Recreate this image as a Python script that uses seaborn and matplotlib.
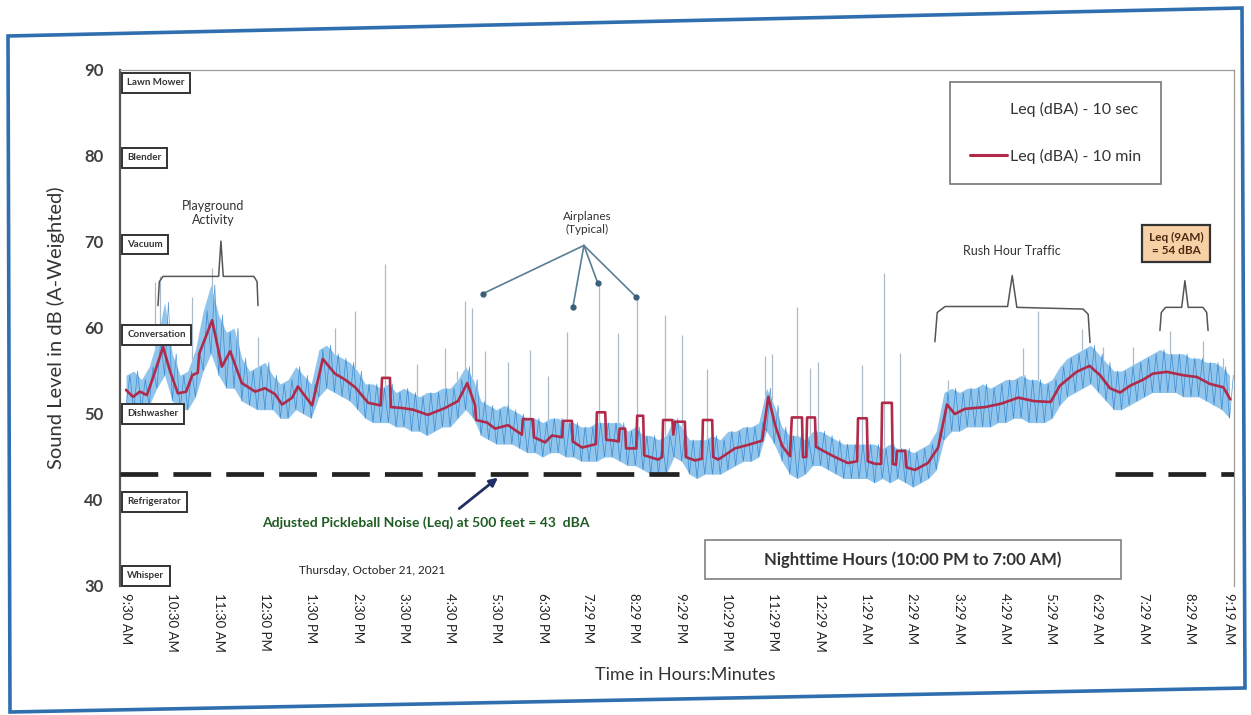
import numpy as np
import pandas as pd
import matplotlib
matplotlib.use("Agg")
import matplotlib.pyplot as plt
import seaborn as sns
from matplotlib.lines import Line2D
from matplotlib.patches import Polygon, Rectangle

# ---------------- data ----------------
tick_hours = [0, 1, 2, 3, 4, 5, 6, 7, 8, 9, 9.98, 10.98, 11.98, 12.98, 13.98, 14.98,
              15.98, 16.98, 17.98, 18.98, 19.98, 20.98, 21.98, 22.98, 23.82]
tick_labels = ["9:30 AM", "10:30 AM", "11:30 AM", "12:30 PM", "1:30 PM", "2:30 PM", "3:30 PM",
               "4:30 PM", "5:30 PM", "6:30 PM", "7:29 PM", "8:29 PM", "9:29 PM", "10:29 PM",
               "11:29 PM", "12:29 AM", "1:29 AM", "2:29 AM", "3:29 AM", "4:29 AM", "5:29 AM",
               "6:29 AM", "7:29 AM", "8:29 AM", "9:19 AM"]
y_ticks = [30, 40, 50, 60, 70, 80, 90]

# Leq 10 min (hours after 9:30 AM, dBA)
red_h = [0.00, 0.15, 0.30, 0.45, 0.60, 0.80, 0.95, 1.12, 1.30, 1.43, 1.55, 1.58, 1.86, 2.07, 2.25,
         2.50, 2.79, 3.00, 3.22, 3.37, 3.59, 3.71, 4.02, 4.25, 4.51, 4.73, 4.95, 5.23, 5.50, 5.53,
         5.70, 5.72, 5.96, 6.20, 6.52, 6.89, 7.17, 7.37, 7.54, 7.56, 7.80, 7.97, 8.25, 8.55, 8.57,
         8.79, 8.81, 9.05, 9.20, 9.42, 9.44, 9.63, 9.65, 9.85, 10.15, 10.17, 10.35, 10.37, 10.56,
         10.64, 10.66, 10.78, 10.80, 11.02, 11.04, 11.17, 11.19, 11.49, 11.58, 11.60, 11.80, 11.82,
         11.86, 12.07, 12.09, 12.29, 12.44, 12.46, 12.66, 12.68, 12.79, 13.15, 13.43, 13.74, 13.87,
         14.02, 14.17, 14.34, 14.38, 14.60, 14.62, 14.69, 14.71, 14.88, 14.90, 15.03, 15.31, 15.59,
         15.79, 15.81, 16.00, 16.02, 16.18, 16.31, 16.33, 16.54, 16.56, 16.63, 16.65, 16.83, 16.85,
         17.04, 17.32, 17.54, 17.73, 17.90, 18.12, 18.55, 18.90, 19.27, 19.61, 19.97, 20.17, 20.53,
         20.81, 21.04, 21.25, 21.47, 21.69, 21.97, 22.18, 22.48, 22.84, 23.13, 23.41, 23.70, 23.85]
red_db = [52.8, 52.0, 52.6, 52.2, 54.5, 57.8, 55.0, 52.4, 52.6, 54.5, 54.8, 57.0, 60.9, 55.5, 57.3,
          53.6, 52.6, 53.0, 52.3, 51.1, 51.9, 53.2, 51.0, 56.4, 54.7, 54.0, 53.1, 51.3, 51.0, 54.2,
          54.2, 50.8, 50.7, 50.5, 49.9, 50.7, 51.5, 53.6, 51.0, 49.3, 49.0, 48.3, 48.7, 47.6, 49.4,
          49.4, 47.3, 46.7, 47.5, 47.3, 49.2, 49.2, 46.8, 46.1, 46.5, 50.2, 50.2, 47.0, 46.9,
          46.8, 48.3, 48.3, 46.0, 46.0, 49.8, 49.8, 45.2, 44.7, 45.0, 49.3, 49.3, 47.6,
          49.1, 49.1, 45.0, 44.6, 44.8, 49.3, 49.3, 45.0, 44.7, 46.0, 46.4, 46.9, 52.0,
          48.7, 46.3, 45.1, 49.6, 49.6, 45.0, 45.0, 49.6, 49.6, 46.2, 45.8, 45.0, 44.3,
          44.5, 49.5, 49.5, 44.5, 44.2, 44.2, 51.3, 51.3, 44.2, 44.1, 45.7, 45.7, 43.8,
          43.5, 44.3, 46.1, 51.1, 50.0, 50.6, 50.8, 51.2, 51.9, 51.5, 51.4, 53.3, 54.9,
          55.6, 54.5, 53.0, 52.5, 53.3, 54.0, 54.7, 54.9, 54.5, 54.3, 53.5, 53.1, 51.7]

# Leq 10 sec: range of the fast readings in each 10-minute step
blue_hi = [54.5, 55.0, 54.0, 55.5, 58.5, 63.0, 57.0, 54.5, 55.0, 57.5, 62.0, 65.0, 61.5, 59.5, 60.0,
           56.5, 55.0, 55.5, 56.0, 54.5, 53.5, 54.0, 55.5, 54.5, 53.5, 57.5, 58.0, 57.0, 56.5, 56.0,
           55.0, 53.5, 53.5, 53.0, 53.5, 52.5, 53.0, 52.5, 52.0, 52.5, 52.5, 53.0, 53.0, 54.0, 55.5,
           54.0, 51.5, 51.0, 50.5, 51.0, 50.5, 50.0, 49.5, 49.5, 49.0, 49.5, 49.5, 49.0, 49.0, 48.5,
           48.5, 49.0, 49.0, 49.0, 49.0, 48.0, 48.5, 47.5, 47.5, 47.0, 47.5, 49.5, 48.5, 47.0, 47.0,
           47.0, 47.5, 47.0, 48.0, 48.0, 48.5, 48.5, 49.0, 53.0, 51.0, 48.5, 47.5, 47.5, 47.0, 48.0,
           48.0, 47.5, 47.0, 46.5, 46.5, 46.5, 46.5, 46.5, 46.0, 46.5, 46.0, 46.0, 45.5, 46.0, 46.5,
           48.0, 52.5, 53.0, 52.5, 53.0, 53.0, 53.5, 53.0, 53.5, 54.0, 54.0, 54.5, 54.0, 54.0, 53.5,
           54.0, 55.5, 56.5, 57.0, 57.5, 58.0, 57.0, 56.0, 55.0, 55.0, 55.5, 56.0, 56.5, 57.0, 57.5,
           57.0, 57.0, 57.0, 56.5, 56.5, 56.0, 56.0, 55.5, 54.5]
blue_lo = [51.0, 50.5, 50.5, 51.0, 53.0, 54.5, 51.5, 50.5, 50.5, 52.0, 55.0, 57.0, 54.5, 53.0, 53.0,
           51.5, 51.0, 50.5, 50.5, 50.5, 49.5, 49.5, 50.5, 50.0, 49.5, 52.0, 53.0, 52.5, 52.0, 51.5,
           50.5, 49.5, 49.0, 49.0, 49.0, 48.5, 48.5, 48.0, 48.0, 47.5, 48.0, 48.5, 48.5, 49.5, 50.5,
           49.5, 47.5, 47.0, 46.5, 46.5, 46.5, 46.0, 45.5, 45.5, 45.0, 45.5, 45.5, 45.0, 45.0, 44.5,
           44.5, 44.5, 45.0, 45.0, 44.5, 44.0, 44.0, 43.5, 43.0, 43.0, 43.0, 45.0, 44.5, 43.0, 42.5,
           43.0, 43.0, 43.0, 43.5, 44.0, 44.5, 44.5, 45.0, 48.0, 46.5, 44.5, 43.0, 42.5, 43.0, 44.0,
           44.0, 43.5, 43.0, 42.5, 42.5, 42.5, 42.5, 42.0, 42.5, 42.0, 42.5, 42.0, 41.5, 42.0, 42.5,
           43.5, 47.0, 48.0, 48.0, 48.5, 48.5, 48.5, 48.5, 49.0, 49.0, 49.5, 49.5, 49.0, 49.0, 49.0,
           49.5, 51.0, 52.0, 52.5, 53.0, 53.5, 52.5, 51.5, 50.5, 50.5, 51.0, 51.5, 52.0, 52.5, 52.5,
           52.5, 52.5, 52.0, 52.0, 52.0, 51.5, 51.0, 50.5, 49.5]

# isolated loud 10-sec events (airplanes etc.)
spike_h = [0.63, 0.73, 1.43, 1.86, 2.85, 4.51, 4.95, 5.60, 6.29, 6.89, 7.15, 7.32, 7.47, 7.75,
           8.25, 8.73, 9.11, 9.52, 10.22, 10.63, 11.04, 11.64, 12.00, 12.55, 13.80, 13.95, 14.50,
           14.78, 14.95, 15.90, 16.37, 16.72, 17.75, 19.37, 19.70, 20.65, 21.10, 21.75, 22.55,
           23.26, 23.69]
spike_top = [65.3, 66.0, 63.6, 67.0, 59.0, 60.0, 62.0, 67.5, 55.8, 57.7, 55.0, 63.1, 62.3, 57.3,
             56.1, 57.5, 54.4, 59.5, 65.2, 59.4, 63.4, 61.5, 59.2, 55.2, 56.7, 57.0, 62.4,
             55.3, 56.0, 55.7, 66.4, 57.1, 54.0, 57.7, 62.0, 59.9, 57.8, 57.8, 59.7,
             58.5, 56.5]

pickleball_level = 43
pickle_day_h = [-0.12, 11.95]
pickle_morning_h = [21.35, 23.93]

cat_names = ["Lawn Mower", "Blender", "Vacuum", "Conversation", "Dishwasher", "Refrigerator", "Whisper"]
cat_levels = [88.5, 79.8, 69.7, 59.2, 50.0, 39.8, 31.2]

# ---------------- figure ----------------
sns.set_theme(style="white")
plt.rcParams["font.family"] = ["Lato", "DejaVu Sans"]

W, H = 1251, 715
fig = plt.figure(figsize=(W / 100, H / 100), dpi=100)
ax_l, ax_r, ax_t, ax_b = 120, 1234, 70, 586
ax = fig.add_axes([ax_l / W, 1 - ax_b / H, (ax_r - ax_l) / W, (ax_b - ax_t) / H])

blue_t = np.arange(len(blue_hi)) / 6.0

# 10-sec band
ax.fill_between(blue_t, blue_lo, blue_hi, color="#4a9fe0", alpha=0.6, lw=0, zorder=2)
zz_t = np.ravel(np.column_stack([blue_t, blue_t + 1 / 12]))
zz_v = np.ravel(np.column_stack([blue_lo, blue_hi]))
sns.lineplot(x=zz_t, y=zz_v, sort=False, estimator=None, color="#1c78c8", lw=0.5, alpha=0.75,
             ax=ax, zorder=3)

# spikes
spike_base = np.interp(spike_h, blue_t, blue_hi)
ax.vlines(spike_h, spike_base, spike_top, color="#9fb0bf", lw=0.9, alpha=0.85, zorder=2)

# 10-min Leq
red_df = pd.DataFrame({"h": red_h, "db": red_db})
sns.lineplot(data=red_df, x="h", y="db", sort=False, estimator=None, color="#b02a4a", lw=1.9,
             ax=ax, zorder=5)

# pickleball dashed line
for seg in (pickle_day_h, pickle_morning_h):
    ax.plot(seg, [pickleball_level] * 2, color="#222222", lw=3.4, dashes=(8, 3.2), zorder=4,
            solid_capstyle="butt", dash_capstyle="butt")

ax.set_xlim(-0.13, 23.93)
ax.set_ylim(30, 90)
ax.set_yticks(y_ticks)
ax.set_yticklabels([str(v) for v in y_ticks], fontsize=12, fontweight="bold", color="#404040")
ax.set_xticks(tick_hours)
ax.set_xticklabels(tick_labels, rotation=270, fontsize=9.5, color="#222222", va="top", ha="center")
ax.tick_params(axis="both", length=0)
ax.tick_params(axis="y", pad=12)
ax.tick_params(axis="x", pad=5)
ax.set_xlabel("")
ax.set_ylabel("Sound Level in dB (A-Weighted)", fontsize=14.5, color="#333333", labelpad=14)

ax.spines["bottom"].set_visible(False)
ax.spines["left"].set_color("#555555")
ax.spines["left"].set_linewidth(1.6)
ax.spines["top"].set_color("#9a9a9a")
ax.spines["top"].set_linewidth(0.9)
ax.spines["right"].set_color("#9a9a9a")
ax.spines["right"].set_linewidth(0.9)

# category boxes
for name, lvl in zip(cat_names, cat_levels):
    ax.text(0.03, lvl, name, fontsize=7, fontweight="bold", color="#333333", ha="left",
            va="center", zorder=6,
            bbox=dict(boxstyle="square,pad=0.55", fc="white", ec="#333333", lw=1.4))

# annotations
ax.text(1.88, 73.4, "Playground\nActivity", fontsize=9, color="#333333", ha="center", va="center",
        linespacing=1.15)
pg_x = [0.69, 0.72, 0.80, 2.00, 2.05, 2.10, 2.76, 2.83, 2.85]
pg_y = [62.6, 65.4, 66.0, 66.0, 70.1, 66.0, 66.0, 65.4, 62.6]
ax.plot(pg_x, pg_y, color="#555555", lw=1.1, zorder=6)

ax.text(9.96, 72.2, "Airplanes\n(Typical)", fontsize=8.5, color="#333333", ha="center",
        va="center", linespacing=1.15)
air_targets = [(7.71, 64.0), (9.65, 62.4), (10.19, 65.2), (11.02, 63.6)]
for tx, ty in air_targets:
    ax.plot([9.89, tx], [69.6, ty], color="#5a7f95", lw=1.2, zorder=6)
    ax.plot([tx], [ty], marker="o", ms=3.5, color="#3b5f78", zorder=6)

ax.text(19.14, 69.0, "Rush Hour Traffic", fontsize=9, color="#333333", ha="center", va="center")
rh_x = [17.47, 17.52, 17.69, 19.04, 19.14, 19.24, 20.67, 20.78, 20.82]
rh_y = [58.4, 61.8, 62.5, 62.5, 66.1, 62.4, 62.2, 61.6, 58.3]
ax.plot(rh_x, rh_y, color="#555555", lw=1.1, zorder=6)

sb_x = [22.33, 22.36, 22.45, 22.80, 22.87, 22.94, 23.26, 23.34, 23.37]
sb_y = [59.7, 61.8, 62.4, 62.4, 65.5, 62.4, 62.4, 61.8, 59.7]
ax.plot(sb_x, sb_y, color="#555555", lw=1.1, zorder=6)

ax.text(22.68, 69.8, "Leq (9AM)\n= 54 dBA", fontsize=8.5, fontweight="bold", color="#4a2a10",
        ha="center", va="center", linespacing=1.2, zorder=7,
        bbox=dict(boxstyle="square,pad=0.55", fc="#f8d0a6", ec="#333333", lw=1.6))

ax.text(5.31, 31.8, "Thursday, October 21, 2021", fontsize=8.5, color="#222222", ha="center",
        va="center")
ax.text(6.48, 37.4, "Adjusted Pickleball Noise (Leq) at 500 feet = 43  dBA", fontsize=10,
        fontweight="bold", color="#1f5c24", ha="center", va="center")
ax.annotate("", xy=(8.08, 42.8), xytext=(7.15, 38.8),
            arrowprops=dict(arrowstyle="-|>", color="#1f2f66", lw=2.0, mutation_scale=12))

ax.add_patch(Rectangle((12.5, 30.8), 9.0, 4.6, fc="white", ec="#8a8a8a", lw=1.3, zorder=6))
ax.text(17.0, 33.1, "Nighttime Hours (10:00 PM to 7:00 AM)", fontsize=12, fontweight="bold",
        color="#333333", ha="center", va="center", zorder=7)

# legend
handles = [Line2D([], [], color="none", lw=2.2), Line2D([], [], color="#b02a4a", lw=2.2)]
leg = ax.legend(handles, ["Leq (dBA) - 10 sec", "Leq (dBA) - 10 min"], loc="upper left",
                bbox_to_anchor=(0.745, 0.977), frameon=True, fancybox=False, fontsize=11.5,
                handlelength=2.3, handletextpad=0.2, labelspacing=2.0, borderpad=1.25,
                borderaxespad=0)
leg.get_frame().set_edgecolor("#555555")
leg.get_frame().set_linewidth(1.2)
for t in leg.get_texts():
    t.set_color("#333333")

fig.text(685 / W, 1 - 675 / H, "Time in Hours:Minutes", fontsize=13, color="#333333",
         ha="center", va="center")

# scanned-page frame
outer = [(8, 36), (1242, 8), (1245, 688), (10, 712)]
fig.add_artist(Polygon([(x / W, 1 - y / H) for x, y in outer], closed=True, fill=False,
                       ec="#2f6fb0", lw=2.6, transform=fig.transFigure))

fig.savefig("out.png", dpi=100)
